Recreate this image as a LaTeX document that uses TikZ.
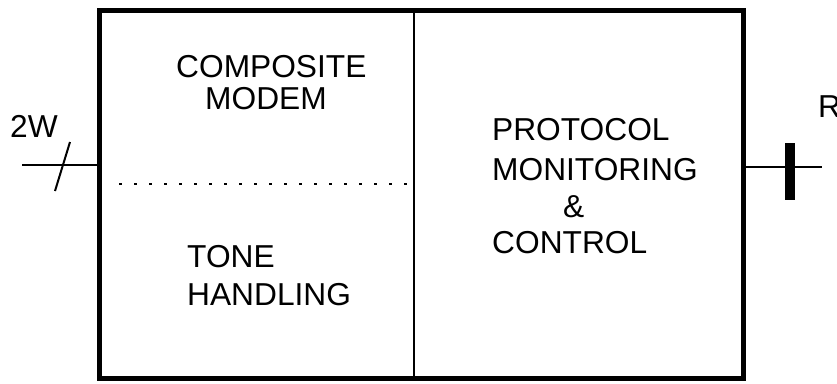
\documentclass[tikz,border=0pt]{standalone}
\usepackage{fontspec}
\setmainfont{Liberation Sans}
\usetikzlibrary{positioning, calc}

\begin{document}
\begin{tikzpicture}[
  x=1pt, y=-1pt,
  every node/.style={font=\fontsize{31.7}{38}\selectfont},
  blocktext/.style={anchor=base west, inner sep=0pt},
  frame/.style={draw, line width=5pt, inner sep=0pt},
  wire/.style={line width=2pt},
]
\useasboundingbox (0,0) rectangle (837,383);

% Unit outline and its parts
\node[frame, minimum width=644pt, minimum height=368pt] (unit) at (421.5,194.5) {};
\coordinate (split) at (414,0);
\draw[line width=2pt] (unit.north -| split) -- (unit.south -| split);
\coordinate (halfL) at (119,184);
\coordinate (halfR) at (412,184);
\draw[line width=2.5pt, dash pattern=on 2.5pt off 12.5pt] (halfL) -- (halfR);

% Block texts
\node[blocktext] (composite) at (176,77) {COMPOSITE};
\node[blocktext] (modem) at (205,109) {MODEM};
\node[blocktext] (tone) at (187,267) {TONE};
\node[blocktext] (handling) at (187,305) {HANDLING};
\node[blocktext] (protocol) at (492,140) {PROTOCOL};
\node[blocktext] (monitoring) at (492,180) {MONITORING};
\node[blocktext] (amp) at (563,217) {\&};
\node[blocktext] (control) at (492,253) {CONTROL};

% 2W side
\node[blocktext] (twowire) at (10,137) {2W};
\coordinate (lineL) at (22,165);
\coordinate (slashlo) at (55,191);
\coordinate (slashhi) at (70,142);
\draw[wire] (lineL) -- (lineL -| unit.west);
\draw[wire] (slashlo) -- (slashhi);

% R side
\node[blocktext] (rside) at (818,117) {R};
\coordinate (lineR) at (822,167);
\coordinate (barT) at (790,143);
\coordinate (barB) at (790,200);
\draw[wire] (unit.east |- lineR) -- (lineR);
\draw[line width=10pt] (barT) -- (barB);

\end{tikzpicture}
\end{document}
